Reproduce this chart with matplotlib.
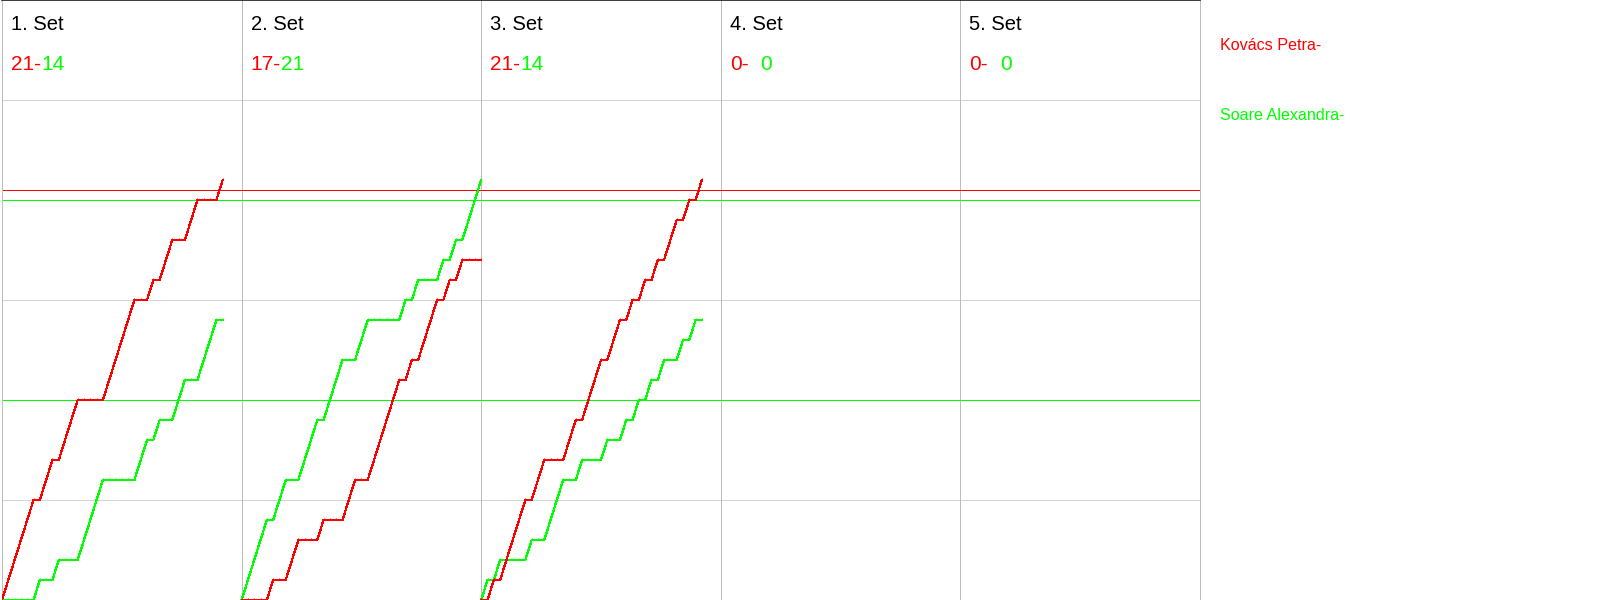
import numpy as np
import matplotlib
matplotlib.use("Agg")
import matplotlib.pyplot as plt

plt.rcParams['font.family'] = ['Liberation Sans', 'DejaVu Sans']

# ---- data ----
player_red = "Kovács Petra"
player_green = "Soare Alexandra"
set_titles = ["1. Set", "2. Set", "3. Set", "4. Set", "5. Set"]
# rally winners per set (R = Kovács Petra, G = Soare Alexandra)
set1_rallies = "RRRRRGRRGRRRGGGGRRRRRGGRGRRGGRRGGGR"
set2_rallies = "GGGGRGGRRGGGRGGGRRGGRRRRRGRGRRRGRGRGGG"
set3_rallies = "GRGRRRRGRRGGGRRGRRRGRRGRGRGRGRRGRGR"
set4_rallies = ""
set5_rallies = ""
red_ref_levels = [20.5]
green_ref_levels = [20, 10]

sets = [set1_rallies, set2_rallies, set3_rallies, set4_rallies, set5_rallies]

# ---- style ----
RED = "#ff0000"
GREEN = "#00ff00"
GRID_H = "#d4d4d4"
GRID_V = "#bcbcbc"
DPI = 100
PX = 72.0 / DPI  # points per pixel
LW = 1.0 * PX    # one pixel

fig = plt.figure(figsize=(16, 6), dpi=DPI)
ax = fig.add_axes([2 / 1600, 0, 1198 / 1600, 1])

W = max(len(s) for s in sets)
n_sets = len(sets)
ax.set_xlim(0, n_sets * W)
ax.set_ylim(0, 30)
ax.set_xticks([])
ax.set_yticks([])
for side in ["left", "right", "bottom"]:
    ax.spines[side].set_color(GRID_V)
    ax.spines[side].set_linewidth(LW)
    ax.spines[side].set_antialiased(False)
ax.spines["bottom"].set_color(GRID_H)
ax.spines["top"].set_color("black")
ax.spines["top"].set_linewidth(1.5 * PX)

# grid
for yv in range(5, 30, 5):
    ax.axhline(yv, color=GRID_H, lw=LW, antialiased=False, zorder=1)
for k in range(1, n_sets):
    ax.axvline(k * W, color=GRID_V, lw=LW, antialiased=False, zorder=1)

# reference lines
for yv in red_ref_levels:
    ax.axhline(yv, color=RED, lw=LW, antialiased=False, zorder=2)
for yv in green_ref_levels:
    ax.axhline(yv, color=GREEN, lw=LW, antialiased=False, zorder=2)

tick_marker = [(0, 0), (0, 1)]

renderer = fig.canvas.get_renderer()
tmp = fig.text(0, 0, "00", fontsize=15)
w00 = tmp.get_window_extent(renderer).width * 72 / DPI
tmp.remove()

for k, (title, rallies) in enumerate(zip(set_titles, sets)):
    arr = np.array(list(rallies)) if rallies else np.array([], dtype=str)
    red_score = np.concatenate([[0], np.cumsum(arr == "R")])
    green_score = np.concatenate([[0], np.cumsum(arr == "G")])
    x = k * W + np.arange(len(arr) + 1)
    if len(arr) > 0:
        for sc, col in [(green_score, GREEN), (red_score, RED)]:
            ax.plot(x, sc, color=col, lw=1.2 * PX, antialiased=False, zorder=3,
                    marker=tick_marker, markersize=3, markeredgewidth=1.0 * PX,
                    markeredgecolor=col, markerfacecolor=col)
    r, g = int(red_score[-1]), int(green_score[-1])

    trans = ax.get_xaxis_transform()
    ax.annotate(title, xy=(k * W, 1), xycoords=trans,
                xytext=(9 * PX, -25 * PX), textcoords="offset points",
                ha="left", va="center", fontsize=14.5, color="black")
    rt = ax.annotate(f"{r}-", xy=(k * W, 1), xycoords=trans,
                     xytext=(9 * PX, -64 * PX), textcoords="offset points",
                     ha="left", va="center", fontsize=15, color=RED)
    ax.annotate(f"{g}", xy=(1, 0), xycoords=rt,
                xytext=(w00, 0), textcoords="offset points",
                ha="right", va="bottom", fontsize=15, color=GREEN)

# legend
fig.text(1220 / 1600, 1 - 46 / 600, f"{player_red}-", color=RED,
         fontsize=11.6, ha="left", va="center")
fig.text(1220 / 1600, 1 - 116 / 600, f"{player_green}-", color=GREEN,
         fontsize=11.6, ha="left", va="center")

fig.savefig("out.png", dpi=DPI)
